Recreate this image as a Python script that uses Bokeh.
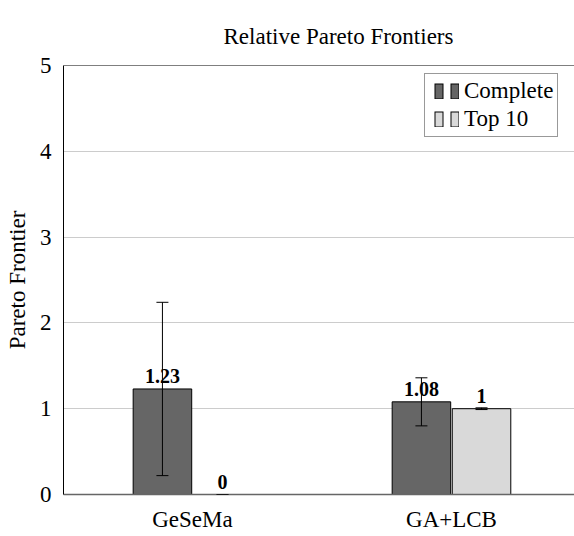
from bokeh.plotting import figure
from bokeh.models import (ColumnDataSource, Range1d, FixedTicker, Whisker, TeeHead,
                          LabelSet, Legend, LegendItem, Span)
from bokeh.core.properties import value
from bokeh.embed import file_html
from bokeh.resources import INLINE

# ---- data -------------------------------------------------------------
methods = ["GeSeMa", "GA+LCB"]
complete_mean = [1.23, 1.08]
complete_err = [1.01, 0.28]
top10_mean = [0.0, 1.0]
top10_err = [0.0, 0.01]
y_ticks = [0, 1, 2, 3, 4, 5]
series_names = ["Complete", "Top 10"]
chart_title = "Relative Pareto Frontiers"

FONT = "Liberation Serif"
DARK = "#666666"
LIGHT = "#d9d9d9"
BAR_W = 0.226
OFFSET = 0.116

xs = list(range(len(methods)))


def make_source(means, errs, shift):
    return ColumnDataSource(dict(
        x=[i + shift for i in xs],
        top=means,
        lo=[m - e for m, e in zip(means, errs)],
        hi=[m + e for m, e in zip(means, errs)],
        lab=[f"{m:g}" for m in means],
    ))


src_complete = make_source(complete_mean, complete_err, -OFFSET)
src_top10 = make_source(top10_mean, top10_err, OFFSET)

p = figure(width=574, height=536, output_backend="svg", toolbar_location=None,
           x_range=Range1d(-0.498, 1.475), y_range=Range1d(0, 5),
           min_border_left=63, min_border_right=0, min_border_top=65,
           min_border_bottom=42, background_fill_color="white",
           border_fill_color="white")
p.outline_line_color = None

# title
p.title.text = chart_title
p.title.align = "left"
p.title.offset = 160
p.title.vertical_align = "top"
p.title.standoff = 30
p.title.text_font = FONT
p.title.text_font_size = "23px"
p.title.text_font_style = "normal"
p.title.text_color = "black"

# bars
for src, color in ((src_complete, DARK), (src_top10, LIGHT)):
    p.vbar(x="x", top="top", bottom=0, width=BAR_W, source=src,
           fill_color=color, line_color="black", line_width=1)

# value labels
for src in (src_complete, src_top10):
    p.add_layout(LabelSet(x="x", y="top", text="lab", source=src,
                          text_align="center", text_baseline="alphabetic",
                          y_offset=6, text_font=value(FONT),
                          text_font_size=value("20px"),
                          text_font_style="bold", text_color="black"))

# error bars, drawn over bars and labels
for src in (src_complete, src_top10):
    p.add_layout(Whisker(base="x", upper="hi", lower="lo", source=src,
                         level="annotation",
                         line_color="black", line_width=1,
                         upper_head=TeeHead(size=12, line_color="black", line_width=1),
                         lower_head=TeeHead(size=12, line_color="black", line_width=1)))

# axes
p.xaxis.ticker = FixedTicker(ticks=xs)
p.xaxis.major_label_overrides = {i: m for i, m in zip(xs, methods)}
p.xaxis.major_tick_in = 0
p.xaxis.major_tick_out = 0
p.xaxis.minor_tick_in = 0
p.xaxis.minor_tick_out = 0
p.xaxis.axis_line_color = "#666666"
p.xaxis.axis_line_width = 1.5
p.xaxis.major_label_standoff = 12
p.xaxis.major_label_text_font = FONT
p.xaxis.major_label_text_font_size = "23px"
p.xaxis.major_label_text_color = "black"

p.yaxis.ticker = FixedTicker(ticks=y_ticks)
p.yaxis.major_tick_in = 0
p.yaxis.major_tick_out = 0
p.yaxis.minor_tick_in = 0
p.yaxis.minor_tick_out = 0
p.yaxis.axis_line_color = "black"
p.yaxis.major_label_standoff = 12
p.yaxis.major_label_text_font = FONT
p.yaxis.major_label_text_font_size = "23px"
p.yaxis.major_label_text_color = "black"
p.yaxis.axis_label = "Pareto Frontier"
p.yaxis.axis_label_standoff = 7
p.yaxis.axis_label_text_font = FONT
p.yaxis.axis_label_text_font_size = "23px"
p.yaxis.axis_label_text_font_style = "normal"
p.yaxis.axis_label_text_color = "black"

p.xgrid.visible = False
p.ygrid.ticker = FixedTicker(ticks=y_ticks)
p.ygrid.grid_line_color = "#cccccc"
p.ygrid.grid_line_width = 1

# top frame edge
p.add_layout(Span(location=5, dimension="width", line_color="black", line_width=1))

# legend: each swatch is a pair of small outlined bars made from dashed strokes
nan = float("nan")
legend_src = ColumnDataSource(dict(x=[nan], y=[nan]))


def swatch(color):
    edge = p.line("x", "y", source=legend_src, line_color="black", line_width=16,
                  line_dash="9 7", line_dash_offset=11)
    fill = p.line("x", "y", source=legend_src, line_color=color, line_width=14,
                  line_dash="7 9", line_dash_offset=10)
    return [edge, fill]


legend = Legend(
    items=[LegendItem(label=series_names[0], renderers=swatch(DARK)),
           LegendItem(label=series_names[1], renderers=swatch(LIGHT))],
    location=(361, 357), orientation="vertical", margin=0, padding=4,
    spacing=2, glyph_width=30, glyph_height=16, label_height=25,
    label_standoff=5, label_text_font=FONT, label_text_font_size="23px",
    label_text_color="black", border_line_color="#333333",
    border_line_width=1, background_fill_color="white",
    background_fill_alpha=1.0)
p.add_layout(legend)

open("out.html", "w").write(file_html(p, INLINE))
